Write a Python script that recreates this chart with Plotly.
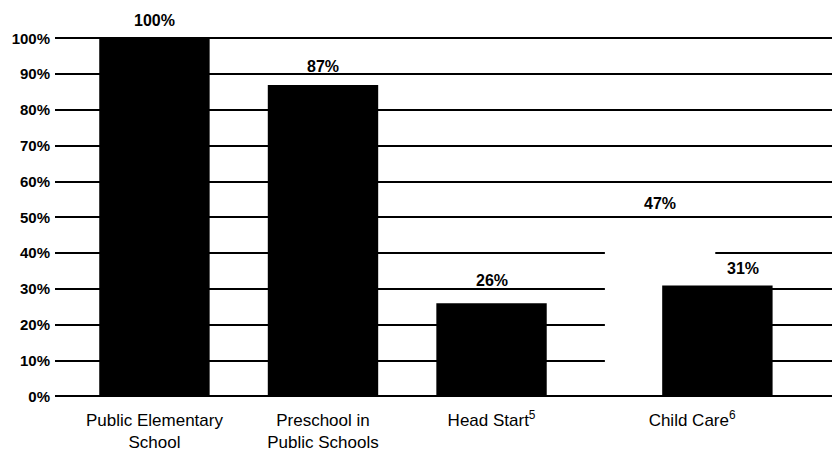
import plotly.graph_objects as go

# ---- data ----
categories = ["Public Elementary<br>School", "Preschool in<br>Public Schools",
              "Head Start<sup>5</sup>", "Child Care<sup>6</sup>"]
values = [100, 87, 26, 31]
hidden_category = ["Child Care<sup>6</sup>"]
hidden_values = [47]
y_ticks = [0, 10, 20, 30, 40, 50, 60, 70, 80, 90, 100]
y_tick_labels = [f"{t}%" for t in y_ticks]

# ---- style (offsets in category units / pixels) ----
BAR_W = 0.655
BAR_SHIFT = [0, 0, 0, 0.34]
TICK_SHIFT = [0, 0, 0, 0.19]
LABEL_XSHIFT = [0, 0, 0, 26]
LABEL_YSHIFT = [18, 18, 23, 17]
HIDDEN_LABEL_YSHIFT = 25
HIDDEN_BASE = 0.7   # keeps the baseline visible under the white bar
FONT = "Liberation Sans"

idx = list(range(len(categories)))
bar_x = [i + s for i, s in zip(idx, BAR_SHIFT)]
hidden_x = [categories.index(c) for c in hidden_category]

fig = go.Figure()
fig.add_bar(x=hidden_x, y=hidden_values, base=HIDDEN_BASE, width=BAR_W,
            marker=dict(color="white", line=dict(width=0)), hoverinfo="skip")
fig.add_bar(x=bar_x, y=values, width=BAR_W,
            marker=dict(color="black", line=dict(width=0)))

for x, v, dx, dy in zip(bar_x, values, LABEL_XSHIFT, LABEL_YSHIFT):
    fig.add_annotation(x=x, y=v, text=f"{v}%", showarrow=False, xshift=dx, yshift=dy,
                       yanchor="middle", font=dict(family=FONT, size=16, color="black", weight="bold"))
for x, v in zip(hidden_x, hidden_values):
    fig.add_annotation(x=x, y=v, text=f"{v}%", showarrow=False, yshift=HIDDEN_LABEL_YSHIFT,
                       yanchor="middle", font=dict(family=FONT, size=16, color="black", weight="bold"))

fig.update_layout(
    width=832, height=452,
    margin=dict(l=55, r=0, t=24, b=50),
    barmode="overlay",
    showlegend=False,
    paper_bgcolor="white", plot_bgcolor="white",
    xaxis=dict(range=[-0.59, 4.02],
               tickvals=[i + s for i, s in zip(idx, TICK_SHIFT)],
               ticktext=categories,
               showgrid=False, zeroline=False, showline=False, ticks="",
               ticklabelstandoff=8,
               tickfont=dict(family=FONT, size=17, color="black")),
    yaxis=dict(range=[-1, 104], tickvals=y_ticks, ticktext=y_tick_labels,
               showgrid=True, gridcolor="black", gridwidth=2,
               zeroline=False, showline=False, ticks="",
               ticklabelstandoff=4,
               tickfont=dict(family=FONT, size=15, color="black", weight="bold")),
)

fig.write_html("out.html", config={"displayModeBar": False},
               post_script="document.body.style.margin='0';document.body.style.overflow='hidden';")
